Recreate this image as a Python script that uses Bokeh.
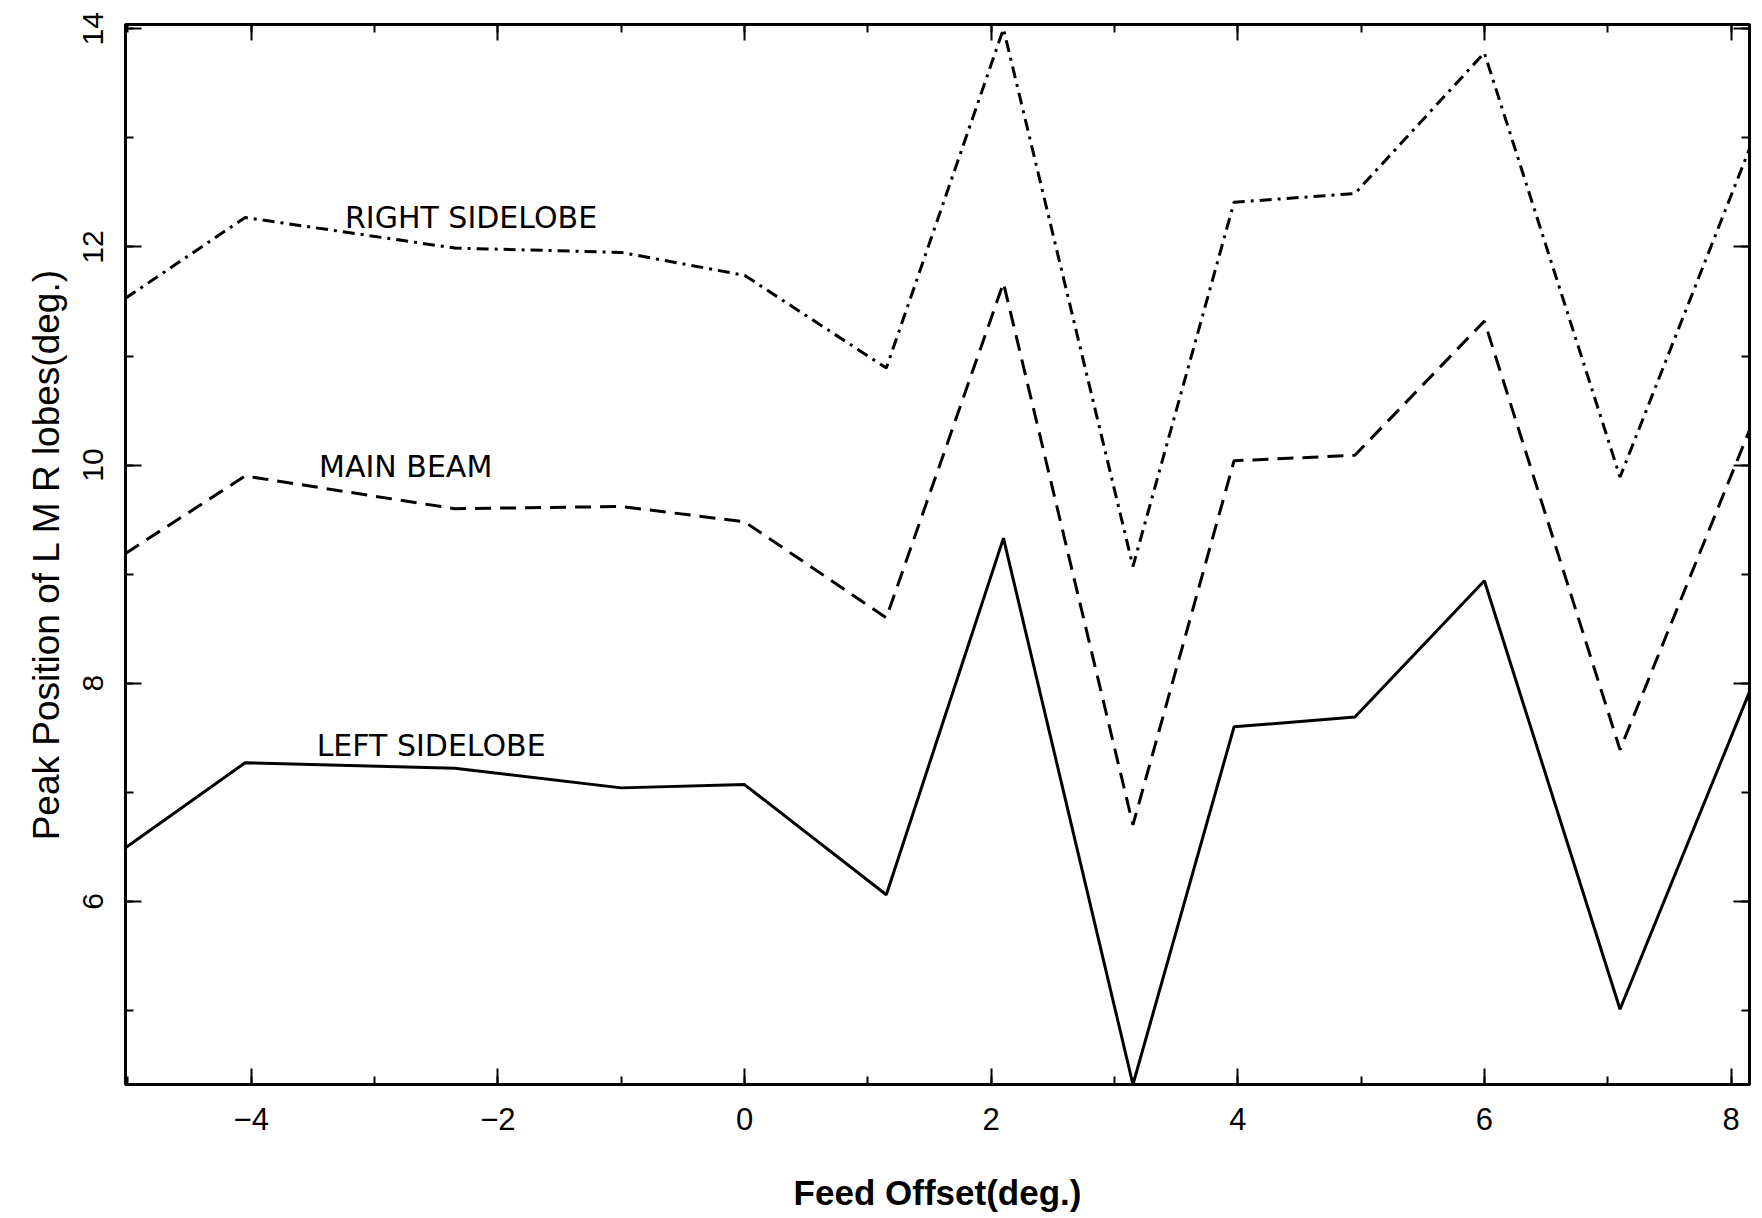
from bokeh.plotting import figure
from bokeh.models import Range1d, LinearAxis, SingleIntervalTicker, Label, CustomLabelingPolicy
from bokeh.embed import file_html
from bokeh.resources import INLINE

# ---- data ----
feed_offset = [-5.02, -4.05, -2.35, -1.0, 0.0, 1.15, 2.1, 3.15, 3.97, 4.95, 6.0, 7.1, 8.15]
right_sidelobe = [11.53, 12.27, 11.99, 11.95, 11.74, 10.89, 14.0, 9.07, 12.41, 12.49, 13.78, 9.89, 12.90]
main_beam = [9.19, 9.90, 9.60, 9.62, 9.48, 8.60, 11.67, 6.70, 10.04, 10.09, 11.32, 7.39, 10.32]
left_sidelobe = [6.49, 7.27, 7.22, 7.04, 7.07, 6.06, 9.33, 4.32, 7.60, 7.69, 8.94, 5.01, 7.92]

label_texts = ["RIGHT SIDELOBE", "MAIN BEAM", "LEFT SIDELOBE"]
label_x = [-3.24, -3.45, -3.47]
label_y = [12.27, 9.99, 7.43]

x_title = "Feed Offset(deg.)"
y_title = "Peak Position of L M R lobes(deg.)"

FONT = "Liberation Sans"
HAND = "DejaVu Sans"

p = figure(width=1754, height=1214,
           x_range=Range1d(-5.02, 8.15), y_range=Range1d(4.32, 14.04),
           output_backend="svg", toolbar_location=None,
           min_border_left=125, min_border_right=5,
           min_border_top=24, min_border_bottom=121)

p.background_fill_color = "white"
p.border_fill_color = "white"
p.xgrid.visible = False
p.ygrid.visible = False
p.outline_line_color = "black"
p.outline_line_width = 3

no_labels = CustomLabelingPolicy(code="""
try { for (let i = 0; i < indices.size; i++) indices.unset(i) } catch (e) {}
return indices
""")

def style_axis(ax, show_labels=True):
    ax.ticker = SingleIntervalTicker(interval=2, num_minor_ticks=2)
    ax.axis_line_width = 3
    ax.axis_line_color = "black"
    ax.major_tick_line_width = 2
    ax.major_tick_line_color = "black"
    ax.minor_tick_line_width = 2
    ax.minor_tick_line_color = "black"
    ax.major_tick_in = 16
    ax.major_tick_out = 0
    ax.minor_tick_in = 8
    ax.minor_tick_out = 0
    ax.major_label_text_font = FONT
    ax.major_label_text_color = "black"
    ax.axis_label_text_color = "black"
    if not show_labels:
        ax.major_label_policy = no_labels
        ax.major_label_text_font_size = "1px"
        ax.major_label_standoff = 0

xa = p.xaxis[0]
style_axis(xa)
xa.major_label_text_font_size = "31px"
xa.major_label_standoff = 23
xa.axis_label = x_title
xa.axis_label_text_font = FONT
xa.axis_label_text_font_size = "35px"
xa.axis_label_text_font_style = "bold"
xa.axis_label_standoff = 40

ya = p.yaxis[0]
style_axis(ya)
ya.major_label_text_font_size = "30px"
ya.major_label_orientation = "vertical"
ya.major_label_standoff = 22
ya.axis_label = y_title
ya.axis_label_text_font = FONT
ya.axis_label_text_font_size = "37px"
ya.axis_label_text_font_style = "normal"
ya.axis_label_standoff = 14

top = LinearAxis()
style_axis(top, show_labels=False)
p.add_layout(top, "above")
right = LinearAxis()
style_axis(right, show_labels=False)
p.add_layout(right, "right")

p.line(feed_offset, left_sidelobe, line_color="black", line_width=3)
p.line(feed_offset, main_beam, line_color="black", line_width=3, line_dash="16 9")
p.line(feed_offset, right_sidelobe, line_color="black", line_width=3, line_dash="12 6 3 6")

for t, lx, ly in zip(label_texts, label_x, label_y):
    p.add_layout(Label(x=lx, y=ly, text=t, text_font=HAND, text_font_size="30px",
                       text_baseline="middle", text_align="left", text_color="black"))

open("out.html", "w").write(file_html(p, INLINE))
